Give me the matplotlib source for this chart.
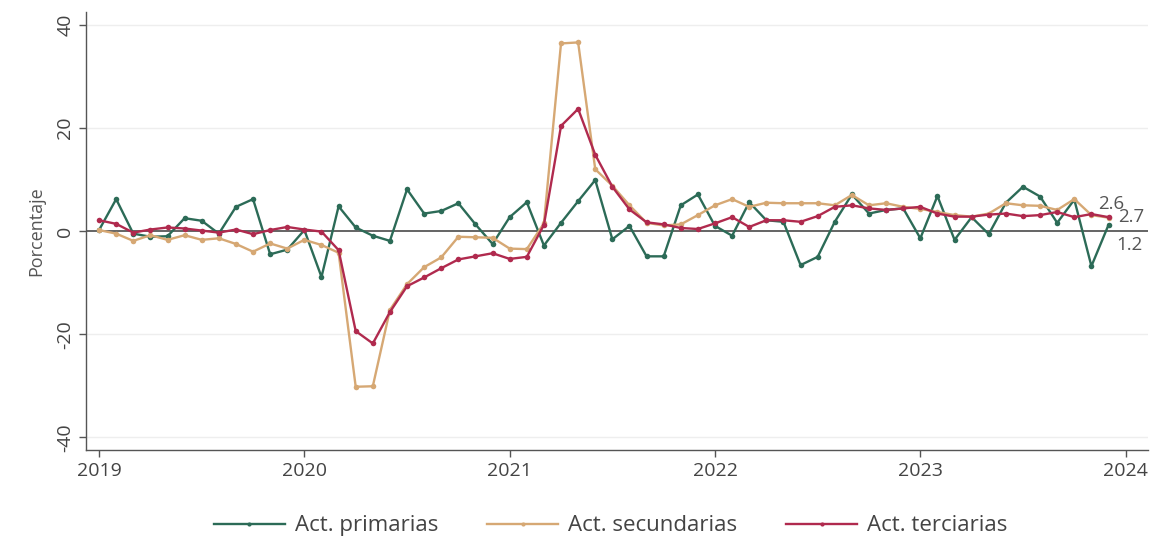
import matplotlib
matplotlib.use("Agg")
import matplotlib.pyplot as plt
import numpy as np

plt.rcParams['font.family'] = ['Open Sans', 'DejaVu Sans']

start_year = 2019
n_months = 60

primarias = [0.2, 6.2, -0.5, -1.1, -1.0, 2.5, 2.0, -0.5, 4.7, 6.2, -4.5, -3.6,
             0.2, -8.9, 4.8, 0.7, -0.9, -1.9, 8.1, 3.4, 3.9, 5.4, 1.3, -2.5,
             2.7, 5.6, -2.8, 1.6, 5.8, 9.9, -1.6, 1.0, -4.9, -4.9, 5.0, 7.1,
             1.0, -0.9, 5.6, 2.1, 1.8, -6.6, -5.0, 1.8, 7.1, 3.4, 4.1, 4.4,
             -1.4, 6.8, -1.7, 2.7, -0.6, 5.5, 8.6, 6.7, 1.6, 6.1, -6.8, 1.2]

secundarias = [0.2, -0.5, -1.9, -0.8, -1.7, -0.8, -1.7, -1.4, -2.5, -4.0, -2.4, -3.4,
               -1.7, -2.7, -4.2, -30.2, -30.1, -15.3, -10.3, -7.0, -5.1, -1.1, -1.2, -1.3,
               -3.4, -3.5, 1.5, 36.4, 36.6, 12.0, 8.8, 5.0, 1.6, 1.1, 1.3, 3.1,
               5.0, 6.2, 4.7, 5.5, 5.4, 5.4, 5.4, 5.0, 7.0, 5.0, 5.4, 4.7,
               4.3, 3.7, 3.1, 2.8, 3.4, 5.4, 5.0, 4.9, 4.1, 6.2, 3.1, 2.6]

terciarias = [2.1, 1.4, -0.3, 0.3, 0.7, 0.5, 0.1, -0.3, 0.3, -0.6, 0.2, 0.8,
              0.3, -0.1, -3.7, -19.4, -21.8, -15.7, -10.7, -9.0, -7.2, -5.5, -4.9, -4.3,
              -5.4, -5.0, 1.2, 20.4, 23.7, 14.8, 8.6, 4.2, 1.7, 1.3, 0.6, 0.4,
              1.5, 2.7, 0.8, 2.1, 2.1, 1.8, 2.9, 4.7, 5.0, 4.4, 4.1, 4.4,
              4.7, 3.4, 2.8, 2.8, 3.2, 3.4, 2.9, 3.1, 3.7, 2.7, 3.3, 2.7]

series_names = ["Act. primarias", "Act. secundarias", "Act. terciarias"]
series_colors = ["#2c6b57", "#d6a874", "#b02a4e"]
end_labels = ["1.2", "2.6", "2.7"]
label_offsets = [(8, -20), (-10, 14), (10, 0)]

x_ticks = [2019, 2020, 2021, 2022, 2023, 2024]
y_ticks = [-40, -20, 0, 20, 40]

x = start_year + np.arange(n_months) / 12.0

fig = plt.figure(figsize=(11.63, 5.45), dpi=100)
ax = fig.add_axes([0.074, 0.174, 0.913, 0.804])

for yv in [-40, -20, 20, 40]:
    ax.axhline(yv, color="#eeeeee", lw=1.0, zorder=0)
ax.axhline(0, color="#3a3a3a", lw=1.1, zorder=1)

order = [1, 0, 2]
data = [primarias, secundarias, terciarias]
handles = {}
for i in order:
    h, = ax.plot(x, data[i], color=series_colors[i], lw=1.7, marker="o",
                 markersize=4, markeredgewidth=0, label=series_names[i], zorder=3 + i)
    handles[i] = h
    ax.annotate(end_labels[i], xy=(x[-1], data[i][-1]), xytext=label_offsets[i],
                textcoords="offset pixels", ha="left", va="center",
                fontsize=13.5, color="#555555")

ax.set_xlim(start_year - 0.76 / 12, start_year + 61.3 / 12)
ax.set_ylim(-42.5, 42.5)
ax.set_xticks(x_ticks)
ax.set_xticklabels([str(t) for t in x_ticks])
ax.set_yticks(y_ticks)
ax.set_yticklabels([str(t) for t in y_ticks], rotation=90, va="center")

for s in ["top", "right"]:
    ax.spines[s].set_visible(False)
for s in ["left", "bottom"]:
    ax.spines[s].set_color("#555555")
    ax.spines[s].set_linewidth(1.0)
ax.tick_params(axis="both", colors="#555555", labelcolor="#444444", labelsize=14,
               length=5, width=1.0)

ax.set_ylabel("Porcentaje", fontsize=13, color="#555555", labelpad=8)

leg = fig.legend([handles[0], handles[1], handles[2]], series_names,
                 loc="center", bbox_to_anchor=(0.525, 0.035), ncol=3, frameon=False,
                 fontsize=16, handlelength=3.2, handletextpad=0.45,
                 columnspacing=2.2, labelcolor="#444444")
for lh in leg.get_lines():
    lh.set_markersize(3)

fig.savefig("out.png", dpi=100, facecolor="white")
